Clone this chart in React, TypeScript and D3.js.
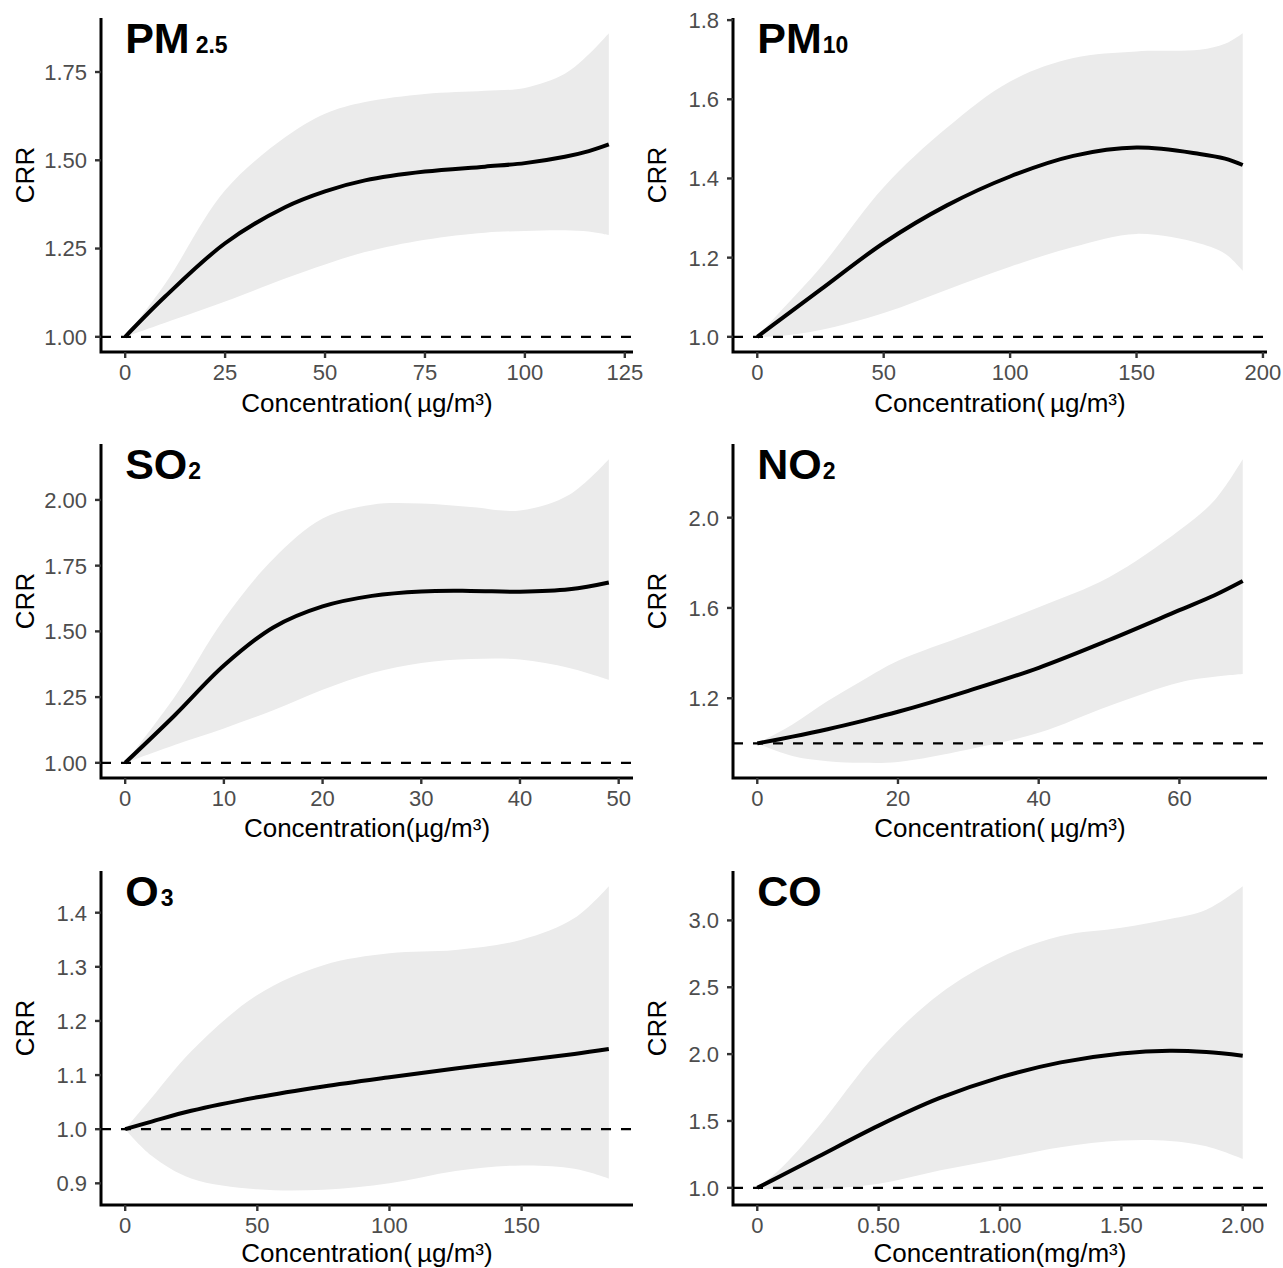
import React from "react";
import * as d3 from "d3";

// PM2.5
const pm25X = [0, 10, 25, 40, 50, 60, 75, 90, 100, 110, 116, 121];
const pm25Est = [1.0, 1.114, 1.265, 1.367, 1.412, 1.443, 1.468, 1.482, 1.492, 1.51, 1.526, 1.545];
const pm25Lo = [1.0, 1.04, 1.1, 1.165, 1.205, 1.24, 1.275, 1.295, 1.3, 1.302, 1.298, 1.288];
const pm25Hi = [1.0, 1.15, 1.415, 1.565, 1.632, 1.665, 1.688, 1.697, 1.705, 1.745, 1.8, 1.86];

// PM10
const pm10X = [0, 10, 25, 50, 75, 100, 125, 150, 175, 185, 192];
const pm10Est = [1.0, 1.048, 1.119, 1.237, 1.332, 1.405, 1.457, 1.478, 1.462, 1.45, 1.434];
const pm10Lo = [1.0, 1.003, 1.017, 1.06, 1.119, 1.177, 1.227, 1.26, 1.236, 1.21, 1.167];
const pm10Hi = [1.0, 1.07, 1.175, 1.378, 1.528, 1.645, 1.704, 1.721, 1.725, 1.74, 1.767];

// SO2
const so2X = [0, 5, 10, 15, 20, 25, 30, 35, 40, 45, 49];
const so2Est = [1.0, 1.18, 1.37, 1.515, 1.595, 1.635, 1.652, 1.654, 1.651, 1.66, 1.686];
const so2Lo = [1.0, 1.068, 1.131, 1.2, 1.278, 1.342, 1.38, 1.395, 1.393, 1.361, 1.316];
const so2Hi = [1.0, 1.25, 1.546, 1.775, 1.929, 1.982, 1.986, 1.973, 1.96, 2.02, 2.155];

// NO2
const no2X = [0, 5, 10, 15, 20, 30, 40, 50, 60, 65, 69];
const no2Est = [1.0, 1.03, 1.063, 1.1, 1.14, 1.233, 1.335, 1.458, 1.59, 1.656, 1.719];
const no2Lo = [1.0, 0.944, 0.921, 0.914, 0.918, 0.973, 1.047, 1.166, 1.27, 1.295, 1.307];
const no2Hi = [1.0, 1.084, 1.188, 1.28, 1.366, 1.484, 1.603, 1.736, 1.944, 2.077, 2.259];

// O3
const o3X = [0, 10, 25, 50, 75, 100, 125, 150, 170, 183];
const o3Est = [1.0, 1.014, 1.034, 1.059, 1.079, 1.096, 1.112, 1.127, 1.139, 1.148];
const o3Lo = [1.0, 0.951, 0.909, 0.889, 0.888, 0.9, 0.923, 0.933, 0.927, 0.909];
const o3Hi = [1.0, 1.058, 1.144, 1.248, 1.303, 1.325, 1.331, 1.35, 1.39, 1.449];

// CO
const coX = [0, 0.1, 0.25, 0.5, 0.75, 1.0, 1.25, 1.5, 1.7, 1.85, 2.0];
const coEst = [1.0, 1.092, 1.232, 1.465, 1.67, 1.826, 1.938, 2.005, 2.025, 2.015, 1.988];
const coLo = [1.0, 0.985, 0.99, 1.03, 1.129, 1.216, 1.303, 1.353, 1.35, 1.31, 1.216];
const coHi = [1.0, 1.15, 1.453, 2.025, 2.448, 2.721, 2.883, 2.945, 3.01, 3.08, 3.256];

// tick values
const pm25XTicks = [0, 25, 50, 75, 100, 125];
const pm25YTicks = [1.0, 1.25, 1.5, 1.75];
const pm10XTicks = [0, 50, 100, 150, 200];
const pm10YTicks = [1.0, 1.2, 1.4, 1.6, 1.8];
const so2XTicks = [0, 10, 20, 30, 40, 50];
const so2YTicks = [1.0, 1.25, 1.5, 1.75, 2.0];
const no2XTicks = [0, 20, 40, 60];
const no2YTicks = [1.2, 1.6, 2.0];
const o3XTicks = [0, 50, 100, 150];
const o3YTicks = [0.9, 1.0, 1.1, 1.2, 1.3, 1.4];
const coXTicks = [0, 0.5, 1.0, 1.5, 2.0];
const coYTicks = [1.0, 1.5, 2.0, 2.5, 3.0];

const FONT = "'Liberation Sans', Arial, Helvetica, sans-serif";
const colLeft = [101, 733];
const colRight = [633, 1267];
const rowTop = [18, 444, 871];
const rowBottom = [352, 778, 1205];
const titleOffset = [60, 59, 57];

const fmtInt = d3.format("d");
const fmt1 = d3.format(".1f");
const fmt2 = d3.format(".2f");
const fmtCO = (v) => (v === 0 ? "0" : fmt2(v));

const panels = [
  { name: "PM", sub: "2.5", subDx: 6, x: pm25X, est: pm25Est, lo: pm25Lo, hi: pm25Hi, xt: pm25XTicks, yt: pm25YTicks, xf: fmtInt, yf: fmt2, unit: "(\u2009µg/m³)", col: 0, row: 0 },
  { name: "PM", sub: "10", subDx: 1, x: pm10X, est: pm10Est, lo: pm10Lo, hi: pm10Hi, xt: pm10XTicks, yt: pm10YTicks, xf: fmtInt, yf: fmt1, unit: "(\u2009µg/m³)", col: 1, row: 0 },
  { name: "SO", sub: "2", subDx: 1, x: so2X, est: so2Est, lo: so2Lo, hi: so2Hi, xt: so2XTicks, yt: so2YTicks, xf: fmtInt, yf: fmt2, unit: "(µg/m³)", col: 0, row: 1 },
  { name: "NO", sub: "2", subDx: 1, x: no2X, est: no2Est, lo: no2Lo, hi: no2Hi, xt: no2XTicks, yt: no2YTicks, xf: fmtInt, yf: fmt1, unit: "(\u2009µg/m³)", col: 1, row: 1 },
  { name: "O", sub: "3", subDx: 2, x: o3X, est: o3Est, lo: o3Lo, hi: o3Hi, xt: o3XTicks, yt: o3YTicks, xf: fmtInt, yf: fmt1, unit: "(\u2009µg/m³)", col: 0, row: 2 },
  { name: "CO", sub: "", subDx: 0, x: coX, est: coEst, lo: coLo, hi: coHi, xt: coXTicks, yt: coYTicks, xf: fmtCO, yf: fmt1, unit: "(mg/m³)", col: 1, row: 2 },
];

function Panel({ p }) {
  const left = colLeft[p.col];
  const right = colRight[p.col];
  const top = rowTop[p.row];
  const bottom = rowBottom[p.row];

  // ggplot style 5% expansion on both axes
  const [x0, x1] = d3.extent(p.x);
  const xPad = (x1 - x0) * 0.05;
  const y0 = d3.min(p.lo);
  const y1 = d3.max(p.hi);
  const yPad = (y1 - y0) * 0.05;

  const x = d3.scaleLinear().domain([x0 - xPad, x1 + xPad]).range([left, right]);
  const y = d3.scaleLinear().domain([y0 - yPad, y1 + yPad]).range([bottom, top]);

  const idx = d3.range(p.x.length);
  const curve = d3.curveCatmullRom.alpha(0.5);
  const area = d3
    .area()
    .x((i) => x(p.x[i]))
    .y0((i) => y(p.lo[i]))
    .y1((i) => y(p.hi[i]))
    .curve(curve);
  const line = d3
    .line()
    .x((i) => x(p.x[i]))
    .y((i) => y(p.est[i]))
    .curve(curve);

  const midY = (top + bottom) / 2 - 10;

  return (
    <g>
      <path d={area(idx)} fill="#ebebeb" />
      <line x1={left} x2={right} y1={y(1)} y2={y(1)} stroke="#000" strokeWidth={2.3} strokeDasharray="10 10" />
      <path d={line(idx)} fill="none" stroke="#000" strokeWidth={4} />

      {/* axes */}
      <path d={`M${left},${top}V${bottom}H${right}`} fill="none" stroke="#000" strokeWidth={3} />
      {p.xt.map((t) => (
        <g key={"x" + t}>
          <line x1={x(t)} x2={x(t)} y1={bottom} y2={bottom + 6} stroke="#333" strokeWidth={2.4} />
          <text x={x(t)} y={bottom + 28} textAnchor="middle" fontSize={22} fill="#4d4d4d" fontFamily={FONT}>
            {p.xf(t)}
          </text>
        </g>
      ))}
      {p.yt.map((t) => (
        <g key={"y" + t}>
          <line x1={left - 6} x2={left} y1={y(t)} y2={y(t)} stroke="#333" strokeWidth={2.4} />
          <text x={left - 14} y={y(t)} dy="0.36em" textAnchor="end" fontSize={22} fill="#4d4d4d" fontFamily={FONT}>
            {p.yf(t)}
          </text>
        </g>
      ))}

      <text x={(left + right) / 2} y={bottom + titleOffset[p.row]} textAnchor="middle" fontSize={26} fill="#000" fontFamily={FONT}>
        {"Concentration" + p.unit}
      </text>
      <text
        transform={`translate(${left - 67},${midY}) rotate(-90)`}
        textAnchor="middle"
        fontSize={26}
        fill="#000"
        fontFamily={FONT}
      >
        CRR
      </text>

      <text x={x(0)} y={top + 35} fontSize={43} fontWeight="bold" fill="#000" fontFamily={FONT}>
        {p.name}
        {p.sub && (
          <tspan fontSize={23} dx={p.subDx}>
            {p.sub}
          </tspan>
        )}
      </text>
    </g>
  );
}

export default function App() {
  return (
    <svg
      width={1283}
      height={1268}
      style={{ position: "absolute", left: 0, top: 0, background: "#fff" }}
    >
      <rect width={1283} height={1268} fill="#fff" />
      {panels.map((p, i) => (
        <Panel key={i} p={p} />
      ))}
    </svg>
  );
}
